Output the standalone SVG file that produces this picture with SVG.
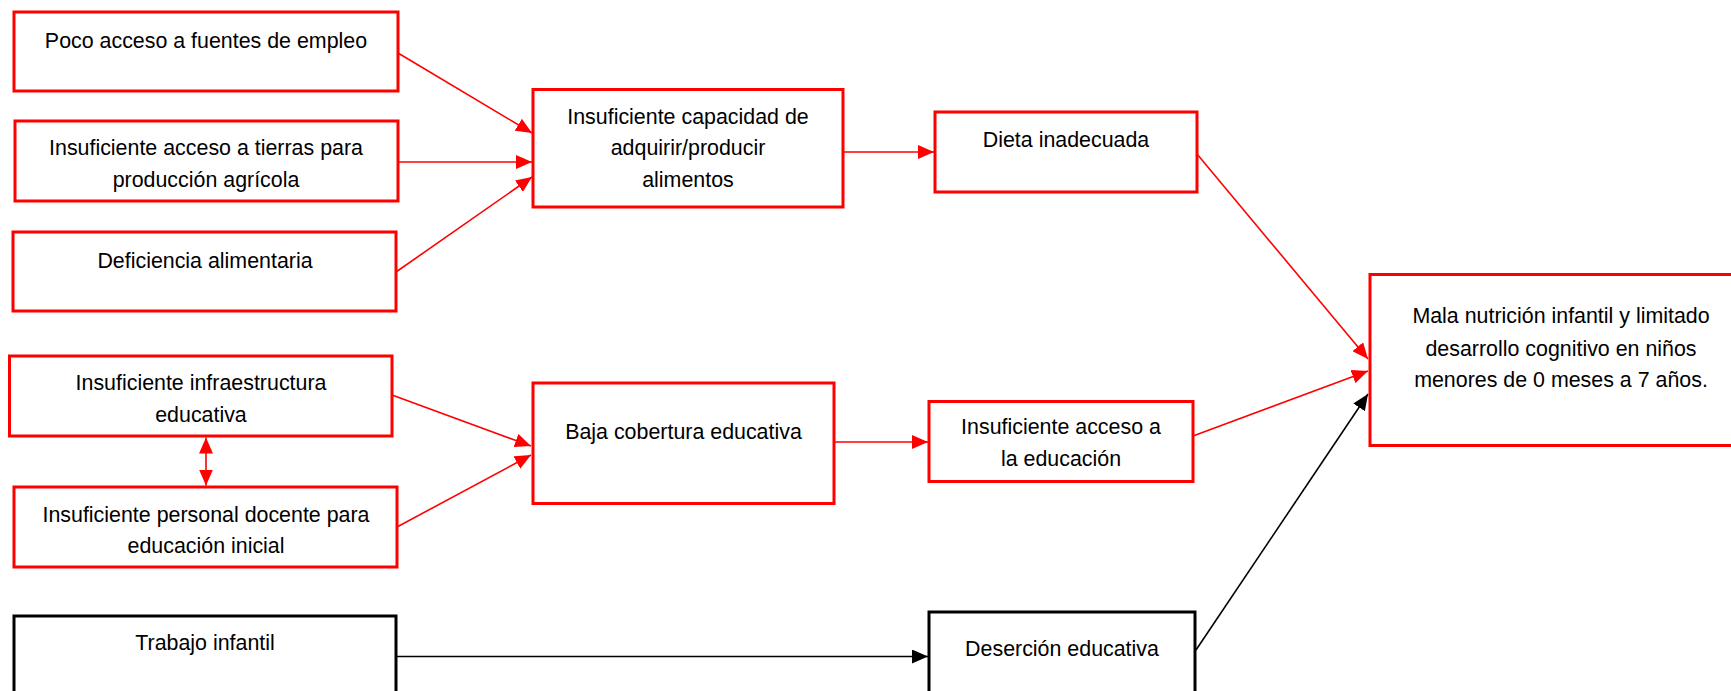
<svg xmlns="http://www.w3.org/2000/svg" width="1731" height="691" viewBox="0 0 1731 691">
<defs>
<style>
.box{fill:#fff;stroke:#ff0000;stroke-width:3}
.bbox{fill:#fff;stroke:#000;stroke-width:3}
.t{font-family:"Liberation Sans",Arial,sans-serif;font-size:21.4px;fill:#000;text-anchor:middle}
.c{stroke:#ff0000;stroke-width:1.6;fill:none}
.k{stroke:#000;stroke-width:1.6;fill:none}
</style>
<marker id="ar" markerUnits="userSpaceOnUse" markerWidth="16" markerHeight="14" refX="16" refY="7" orient="auto-start-reverse" viewBox="0 0 16 14"><path d="M0,0 L16,7 L0,14 z" fill="#ff0000"/></marker>
<marker id="ak" markerUnits="userSpaceOnUse" markerWidth="16" markerHeight="14" refX="16" refY="7" orient="auto" viewBox="0 0 16 14"><path d="M0,0 L16,7 L0,14 z" fill="#000"/></marker>
</defs>
<rect width="1731" height="691" fill="#fff"/>
<g id="connectors">
<line class="c" x1="398" y1="53" x2="532" y2="133" marker-end="url(#ar)"/>
<line class="c" x1="398" y1="162" x2="532" y2="162" marker-end="url(#ar)"/>
<line class="c" x1="396" y1="272" x2="532" y2="177" marker-end="url(#ar)"/>
<line class="c" x1="843" y1="152" x2="934" y2="152" marker-end="url(#ar)"/>
<line class="c" x1="1197" y1="154" x2="1368" y2="359" marker-end="url(#ar)"/>
<line class="c" x1="392" y1="395" x2="531" y2="446" marker-end="url(#ar)"/>
<line class="c" x1="397" y1="527" x2="531" y2="455" marker-end="url(#ar)"/>
<line class="c" x1="206" y1="437.5" x2="206" y2="485.5" marker-start="url(#ar)" marker-end="url(#ar)"/>
<line class="c" x1="834" y1="442" x2="928" y2="442" marker-end="url(#ar)"/>
<line class="c" x1="1193" y1="436" x2="1368" y2="371" marker-end="url(#ar)"/>
<line class="k" x1="396" y1="656.5" x2="928" y2="656.5" marker-end="url(#ak)"/>
<line class="k" x1="1196" y1="650" x2="1368" y2="394" marker-end="url(#ak)"/>
</g>
<g id="n1"><rect class="box" x="14" y="12" width="384" height="79"/><text class="t" x="206" y="48">Poco acceso a fuentes de empleo</text></g>
<g id="n2"><rect class="box" x="15" y="121" width="383" height="80"/><text class="t" x="206" y="155">Insuficiente acceso a tierras para</text><text class="t" x="206" y="187">producción agrícola</text></g>
<g id="n3"><rect class="box" x="13" y="232" width="383" height="79"/><text class="t" x="205" y="268">Deficiencia alimentaria</text></g>
<g id="n4"><rect class="box" x="9.5" y="356" width="382.5" height="80"/><text class="t" x="201" y="390">Insuficiente infraestructura</text><text class="t" x="201" y="421.5">educativa</text></g>
<g id="n5"><rect class="box" x="14" y="487" width="383" height="80"/><text class="t" x="206" y="521.5">Insuficiente personal docente para</text><text class="t" x="206" y="552.5">educación inicial</text></g>
<g id="n6"><rect class="bbox" x="14" y="616" width="382" height="90"/><text class="t" x="205" y="650">Trabajo infantil</text></g>
<g id="n7"><rect class="box" x="533" y="89.5" width="310" height="117.5"/><text class="t" x="688" y="124">Insuficiente capacidad de</text><text class="t" x="688" y="155">adquirir/producir</text><text class="t" x="688" y="186.5">alimentos</text></g>
<g id="n8"><rect class="box" x="935" y="112" width="262" height="80"/><text class="t" x="1066" y="147">Dieta inadecuada</text></g>
<g id="n9"><rect class="box" x="533" y="383" width="301" height="120.5"/><text class="t" x="683.5" y="439">Baja cobertura educativa</text></g>
<g id="n10"><rect class="box" x="929" y="401.5" width="264" height="80"/><text class="t" x="1061" y="434">Insuficiente acceso a</text><text class="t" x="1061" y="466">la educación</text></g>
<g id="n11"><rect class="bbox" x="929" y="612" width="266" height="90"/><text class="t" x="1062" y="656">Deserción educativa</text></g>
<g id="n12"><rect class="box" x="1370" y="274.5" width="370" height="171"/><text class="t" x="1561" y="323">Mala nutrición infantil y limitado</text><text class="t" x="1561" y="355.5">desarrollo cognitivo en niños</text><text class="t" x="1561" y="387">menores de 0 meses a 7 años.</text></g>
</svg>
